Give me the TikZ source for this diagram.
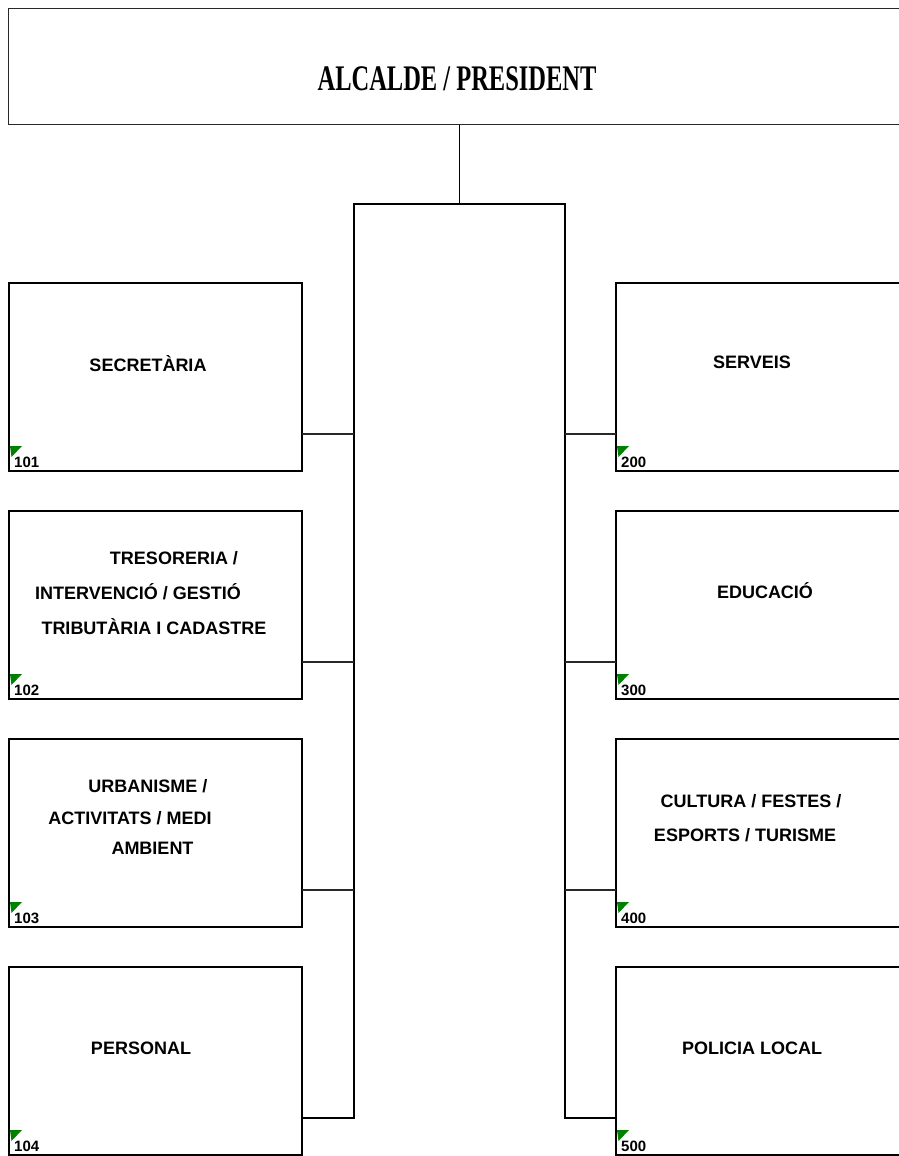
\documentclass[tikz,border=0pt]{standalone}
\usepackage{fontspec}
\setmainfont{Liberation Sans}
\newfontfamily\titlefont{Liberation Serif}
\definecolor{tabgreen}{RGB}{0,128,0}
\definecolor{wire}{RGB}{40,40,40}
\begin{document}
\begin{tikzpicture}[x=1pt,y=-1pt,
  unitbox/.style={draw=black, line width=2pt, outer sep=0pt, inner sep=0pt,
    minimum width=293pt, minimum height=188pt, anchor=north west},
  rightbox/.style={unitbox, minimum width=310pt},
  headbox/.style={draw=wire, line width=1.6pt, outer sep=0pt, inner sep=0pt,
    minimum width=920pt, minimum height=116pt, anchor=north west},
  titletext/.style={inner sep=0pt, anchor=base,
    font=\titlefont\bfseries\fontsize{36}{40}\selectfont, xscale=0.68},
  unittext/.style={inner sep=0pt, anchor=base,
    font=\bfseries\fontsize{18}{22}\selectfont},
  codetext/.style={inner sep=0pt, anchor=base west,
    font=\bfseries\fontsize{15}{18}\selectfont},
  codemark/.style={fill=tabgreen},
  trunk/.style={draw=black, line width=1.8pt},
  stub/.style={draw=wire, line width=1.1pt},
  feed/.style={draw=black, line width=1pt}]
\useasboundingbox (0,0) rectangle (899,1156);
\clip (0,0) rectangle (899,1156);

% head of the organisation
\node[headbox] (pres) at (8.5,8.5) {};
\node[titletext] (prestext) at (457,90) {ALCALDE / PRESIDENT};

% departments, left column
\node[unitbox] (b101) at (9,283) {};
\node[unitbox] (b102) at (9,511) {};
\node[unitbox] (b103) at (9,739) {};
\node[unitbox] (b104) at (9,967) {};
% departments, right column
\node[rightbox] (b200) at (616,283) {};
\node[rightbox] (b300) at (616,511) {};
\node[rightbox] (b400) at (616,739) {};
\node[rightbox] (b500) at (616,967) {};

% department names
\node[unittext] (t101) at (148,371) {SECRETÀRIA};
\node[unittext] (t102a) at (174,564) {TRESORERIA /};
\node[unittext] (t102b) at (138,599) {INTERVENCIÓ / GESTIÓ};
\node[unittext] (t102c) at (154,634) {TRIBUTÀRIA I CADASTRE};
\node[unittext] (t103a) at (148,792) {URBANISME /};
\node[unittext] (t103b) at (130,824) {ACTIVITATS / MEDI};
\node[unittext] (t103c) at (152.5,854) {AMBIENT};
\node[unittext] (t104) at (141,1054) {PERSONAL};
\node[unittext] (t200) at (752,368) {SERVEIS};
\node[unittext] (t300) at (765,598) {EDUCACIÓ};
\node[unittext] (t400a) at (751,807) {CULTURA / FESTES /};
\node[unittext] (t400b) at (745,841) {ESPORTS / TURISME};
\node[unittext] (t500) at (752,1054) {POLICIA LOCAL};

% code markers and numbers in the lower left corners
\foreach \b in {101,102,103,104,200,300,400,500}{
  \fill[codemark] ([shift={(1,-25)}]b\b.south west) -- ++(12,0) -- ++(-10.5,11) -- cycle;
  \node[codetext] (n\b) at ([shift={(5,-3.5)}]b\b.south west) {\b};
}

% branch points of the trunk
\coordinate (hub) at (459,204);
\coordinate (lt) at (354,204);
\coordinate (rt) at (565,204);
\foreach \b in {101,102,103,104}{
  \coordinate (c\b) at ([yshift=-151pt]b\b.north east);
}
\foreach \b in {200,300,400,500}{
  \coordinate (c\b) at ([yshift=-151pt]b\b.north west);
}

% connectors
\draw[feed] (pres.south -| hub) -- (hub);
\draw[trunk] (c104) -| (lt) -- (rt) |- (c500);
\foreach \b in {101,102,103}{
  \draw[stub] (c\b) -- (c\b -| lt);
}
\foreach \b in {200,300,400}{
  \draw[stub] (c\b) -- (c\b -| rt);
}
\end{tikzpicture}
\end{document}
